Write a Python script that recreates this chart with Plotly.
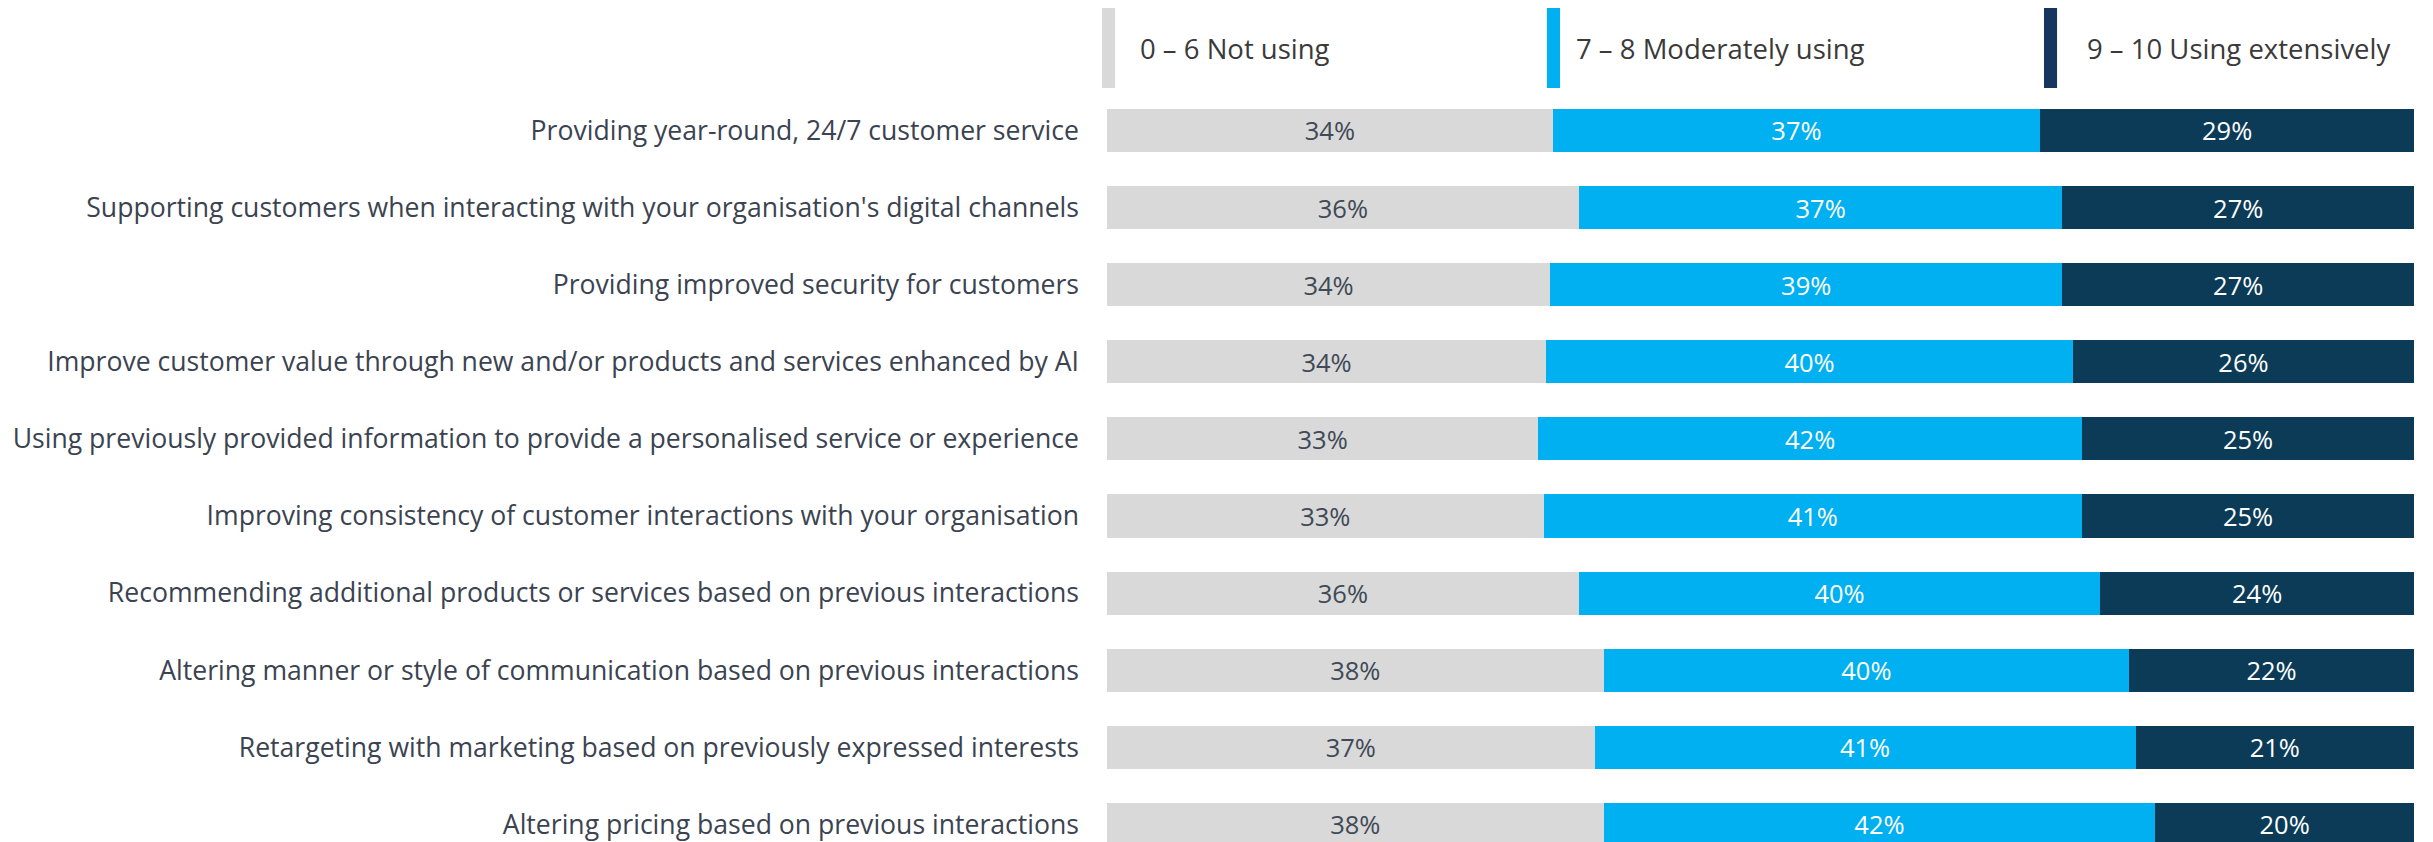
import plotly.graph_objects as go

categories = [
    "Providing year-round, 24/7 customer service",
    "Supporting customers when interacting with your organisation's digital channels",
    "Providing improved security for customers",
    "Improve customer value through new and/or products and services enhanced by AI",
    "Using previously provided information to provide a personalised service or experience",
    "Improving consistency of customer interactions with your organisation",
    "Recommending additional products or services based on previous interactions",
    "Altering manner or style of communication based on previous interactions",
    "Retargeting with marketing based on previously expressed interests",
    "Altering pricing based on previous interactions",
]

series_names = ["0 – 6 Not using", "7 – 8 Moderately using", "9 – 10 Using extensively"]

not_using = [34.1, 36.1, 33.9, 33.6, 33.0, 33.4, 36.1, 38.0, 37.3, 38.0]
moderately = [37.3, 37.0, 39.2, 40.3, 41.6, 41.2, 39.9, 40.2, 41.4, 42.2]
extensively = [28.6, 26.9, 26.9, 26.1, 25.4, 25.4, 24.0, 21.8, 21.3, 19.8]

bar_colors = ["#D9D9D9", "#00B0F0", "#0B3B57"]
swatch_colors = ["#D9D9D9", "#00B0F0", "#17365D"]
text_colors = ["#404956", "white", "white"]

FONT = "Open Sans"

fig = go.Figure()
for name, vals, col, tcol in zip(series_names, [not_using, moderately, extensively],
                                 bar_colors, text_colors):
    fig.add_trace(go.Bar(
        y=categories, x=vals, name=name, orientation="h",
        marker=dict(color=col, line=dict(width=0)),
        texttemplate="%{x:.0f}%", textposition="inside",
        insidetextanchor="middle",
        textfont=dict(family=FONT, size=25.5, color=tcol),
        hoverinfo="skip",
    ))

# custom legend: tall colour bars with text beside them
sw_x = [-0.0038, 0.3366, 0.7169]
txt_x = [0.0237, 0.357, 0.748]
for name, col, sx, tx in zip(series_names, swatch_colors, sw_x, txt_x):
    fig.add_shape(type="rect", xref="paper", yref="paper",
                  x0=sx, x1=sx + 0.0100, y0=1.0053, y1=1.112,
                  fillcolor=col, line_width=0)
    fig.add_annotation(xref="paper", yref="paper", x=tx, y=1.058,
                       xanchor="left", yanchor="middle", showarrow=False,
                       text=name, font=dict(family=FONT, size=27.5, color="#3A3A3A"))

# page body adds an 8px margin, so the figure is 8px smaller
fig.update_layout(
    barmode="stack",
    bargap=0.442,
    width=2425, height=834,
    margin=dict(l=1099, r=19, t=84, b=0),
    plot_bgcolor="white", paper_bgcolor="white",
    showlegend=False,
    font=dict(family=FONT),
    uniformtext=dict(mode="show", minsize=10),
    xaxis=dict(range=[0, 100], visible=False, fixedrange=True),
    yaxis=dict(
        range=[9.228, -0.499],
        showgrid=False, showline=False, zeroline=False,
        ticks="", ticklabelstandoff=27,
        tickfont=dict(family=FONT, size=26.6, color="#3B4351"),
    ),
)

fig.write_html("out.html")
